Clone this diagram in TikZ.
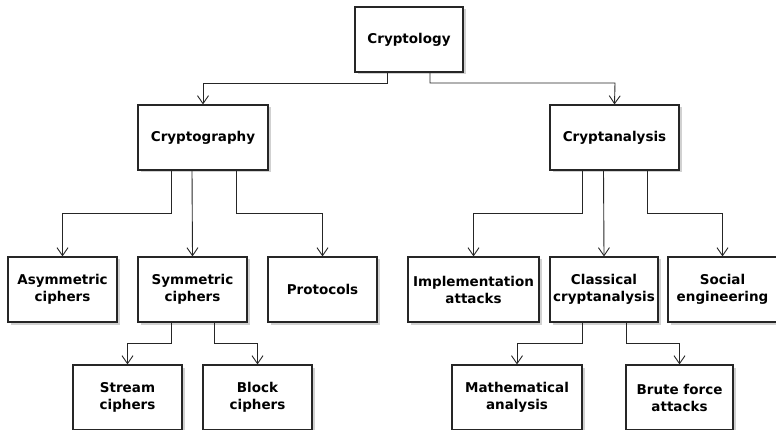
\documentclass[tikz,border=0pt]{standalone}
\usepackage{fontspec}
\setmainfont{DejaVu Sans}
\usetikzlibrary{arrows.meta,shadows}
\begin{document}
\begin{tikzpicture}[x=1pt,y=-1pt,
  box/.style={draw=black!85, line width=1.1pt, fill=white, rectangle, align=center,
    minimum height=65pt, inner sep=0pt,
    font=\fontsize{13.5}{17}\selectfont\bfseries,
    drop shadow={shadow xshift=2.5pt, shadow yshift=-2.5pt, fill=black!18, opacity=1}},
  arr/.style={draw=black!85, line width=0.9pt, -{Straight Barb[length=8pt,width=11pt,line width=0.9pt]}}]
\useasboundingbox (0,0) rectangle (776,430);
% top
\node[box, minimum width=108pt] (ctl) at (409,39.5) {Cryptology};
% level 1
\node[box, minimum width=130pt] (cgr) at (203,137.5) {Cryptography};
\node[box, minimum width=129pt] (cna) at (614.5,137.5) {Cryptanalysis};
% level 2
\node[box, minimum width=109pt] (asy) at (62.5,289.5) {Asymmetric\\ciphers};
\node[box, minimum width=109pt] (sym) at (192.5,289.5) {Symmetric\\ciphers};
\node[box, minimum width=109pt] (pro) at (322.5,289.5) {Protocols};
\node[box, minimum width=131pt] (imp) at (473.5,289.5) {Implementation\\attacks};
\node[box, minimum width=108pt] (cla) at (604,289.5) {Classical\\cryptanalysis};
\node[box, minimum width=109pt] (soc) at (722.5,289.5) {Social\\engineering};
% level 3
\node[box, minimum width=109pt] (str) at (127.5,397.5) {Stream\\ciphers};
\node[box, minimum width=109pt] (blk) at (257.5,397.5) {Block\\ciphers};
\node[box, minimum width=130pt] (mat) at (517,397.5) {Mathematical\\analysis};
\node[box, minimum width=107pt] (bru) at (679.5,397.5) {Brute force\\attacks};
% connectors
\draw[arr] ([xshift=-22pt]ctl.south) |- (203,83) -- (cgr.north);
\draw[arr] ([xshift=21pt]ctl.south) |- (615,83) -- (cna.north);
\draw[arr] ([xshift=-32pt]cgr.south) |- (62.5,213) -- (asy.north);
\draw[arr] ([xshift=-11pt]cgr.south) -- (sym.north);
\draw[arr] ([xshift=33pt]cgr.south) |- (322.5,213) -- (pro.north);
\draw[arr] ([xshift=-32.5pt]cna.south) |- (473.5,213) -- (imp.north);
\draw[arr] ([xshift=-11pt]cna.south) -- (cla.north);
\draw[arr] ([xshift=32.5pt]cna.south) |- (722.5,213) -- (soc.north);
\draw[arr] ([xshift=-21.5pt]sym.south) |- (127.5,343) -- (str.north);
\draw[arr] ([xshift=21.5pt]sym.south) |- (257.5,343) -- (blk.north);
\draw[arr] ([xshift=-22pt]cla.south) |- (517,343) -- (mat.north);
\draw[arr] ([xshift=22pt]cla.south) |- (679.5,343) -- (bru.north);
\end{tikzpicture}
\end{document}
